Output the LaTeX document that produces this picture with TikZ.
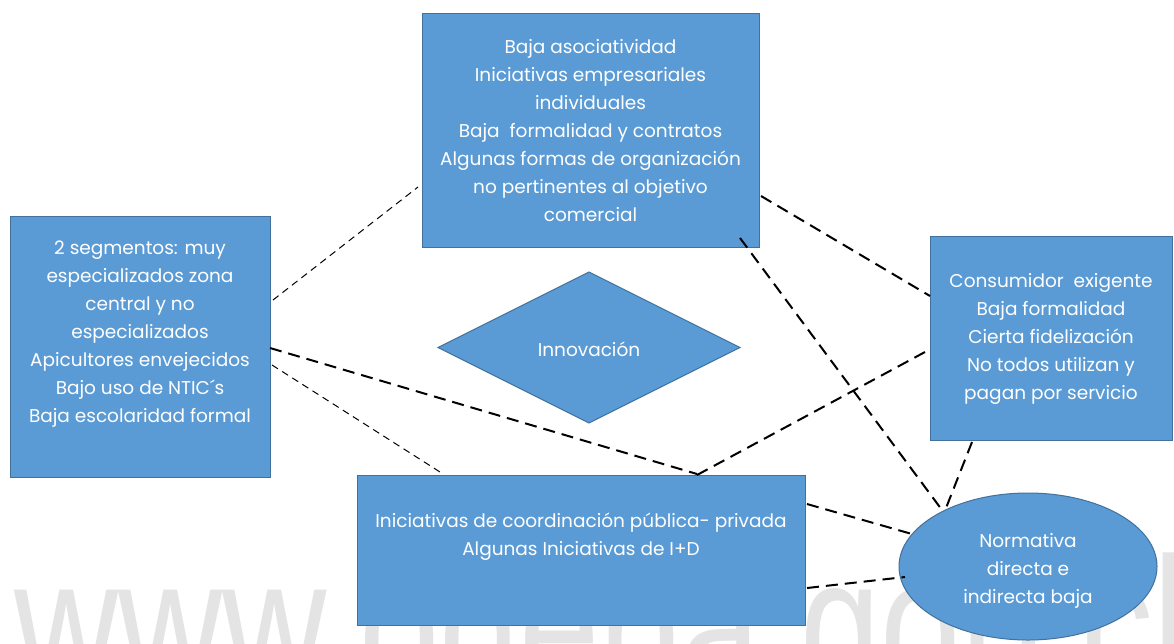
\documentclass[tikz,border=0pt]{standalone}
\usepackage{fontspec}
\setmainfont{Poppins}
\newfontfamily\wmfont{Liberation Sans}
\usetikzlibrary{shapes.geometric}
\definecolor{boxblue}{HTML}{5B9BD5}
\definecolor{boxline}{HTML}{41719C}
\definecolor{wmgray}{HTML}{E4E4E4}
\tikzset{
  shp/.style={fill=boxblue, draw=boxline, line width=1pt, inner sep=0pt, outer sep=0pt},
  boxshape/.style={shp, rectangle},
  txt/.style={text=white, align=center, font=\fontsize{18.5}{28}\selectfont, inner sep=0pt},
  thickdash/.style={line width=2pt, dash pattern=on 12pt off 7pt, black},
  thindash/.style={line width=1pt, dash pattern=on 7pt off 5pt, black}
}
\begin{document}
\begin{tikzpicture}[x=1pt,y=-1pt]
\useasboundingbox (0,0) rectangle (1174,643);
\fill[white] (0,0) rectangle (1174,643);
\begin{scope}
\clip (0,0) rectangle (1174,643);
\node[anchor=base west, text=wmgray, xscale=0.76, inner sep=0pt, font=\wmfont\fontsize{190}{190}\selectfont] (wm) at (14,690) {www.odepa.gob.cl};
\end{scope}

% boxes
\node[boxshape, minimum width=337pt, minimum height=234pt] (T) at (590.5,130) {};
\node[txt] (Ttext) at (590.5,131) {Baja asociatividad\\Iniciativas empresariales\\individuales\\Baja\ \ formalidad y contratos\\Algunas formas de organización\\no pertinentes al objetivo\\comercial};

\node[boxshape, minimum width=260pt, minimum height=261pt] (L) at (140,346.5) {};
\node[txt] (Ltext) at (140,334) {2 segmentos: muy\\especializados zona\\central y no\\especializados\\Apicultores envejecidos\\Bajo uso de NTIC´s\\Baja escolaridad formal};

\node[boxshape, minimum width=242pt, minimum height=204pt] (R) at (1051,338) {};
\node[txt] (Rtext) at (1051,339) {Consumidor\ \ exigente\\Baja formalidad\\Cierta fidelización\\No todos utilizan y\\pagan por servicio};

\node[boxshape, minimum width=448pt, minimum height=150pt] (B) at (581,550) {};
\node[txt] (Btext) at (581,537) {Iniciativas de coordinación pública- privada\\Algunas Iniciativas de I+D};

\node[shp, ellipse, minimum width=258pt, minimum height=147pt] (E) at (1028,566.5) {};
\node[txt] (Etext) at (1028,571) {Normativa\\directa e\\indirecta baja};

\node[shp, diamond, minimum width=302pt, minimum height=151pt] (D) at (589,347.5) {};
\node[txt] (Dtext) at (589,349) {Innovación};

% connector end points
\coordinate (c1a) at (273,300);   \coordinate (c1b) at (418,187);
\coordinate (c2a) at (270,348);   \coordinate (c2b) at (697,474);
\coordinate (c3a) at (272,365);   \coordinate (c3b) at (440,472);
\coordinate (c4a) at (761,196);   \coordinate (c4b) at (930,296);
\coordinate (c5a) at (740,238);   \coordinate (c5b) at (942,510);
\coordinate (c6a) at (925,352);   \coordinate (c6b) at (697,475);
\coordinate (c7a) at (972,442);   \coordinate (c7b) at (946,508);
\coordinate (c8a) at (807,504);   \coordinate (c8b) at (912,534);
\coordinate (c9a) at (807,588);   \coordinate (c9b) at (905,577);

\draw[thindash] (c1a) -- (c1b);
\draw[thickdash] (c2a) -- (c2b);
\draw[thindash] (c3a) -- (c3b);
\draw[thickdash] (c4a) -- (c4b);
\draw[thickdash] (c5a) -- (c5b);
\draw[thickdash] (c6a) -- (c6b);
\draw[thickdash] (c7a) -- (c7b);
\draw[thickdash] (c8a) -- (c8b);
\draw[thickdash] (c9a) -- (c9b);
\end{tikzpicture}
\end{document}
